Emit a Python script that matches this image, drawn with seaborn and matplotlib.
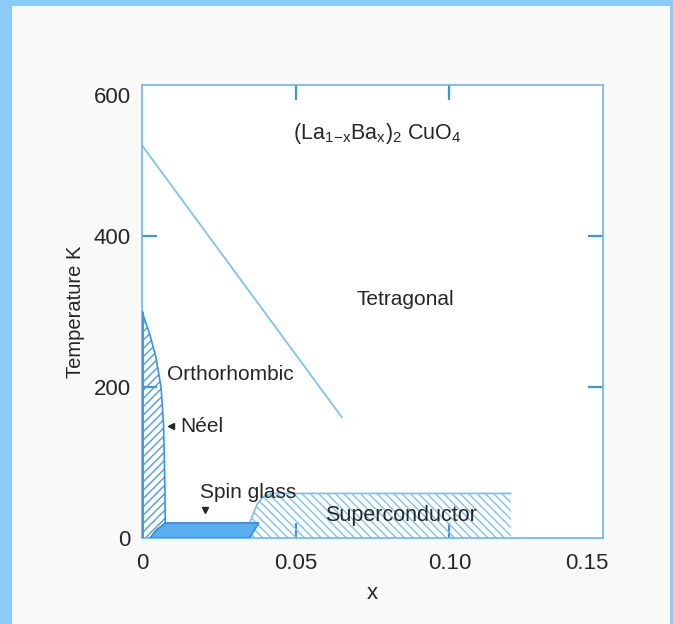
import numpy as np
import pandas as pd
import matplotlib
matplotlib.use("Agg")
import matplotlib.pyplot as plt
import matplotlib.transforms as mtransforms
from matplotlib.patches import Rectangle
import seaborn as sns

# Phase diagram of (La1-xBax)2CuO4
# Tetragonal / orthorhombic boundary
tet_x = [0.0, 0.065]
tet_T = [520, 160]

# Neel (antiferromagnetic) boundary
neel_T = [300, 270, 240, 200, 150, 100, 50, 0]
neel_x = [0.0, 0.0025, 0.0045, 0.0062, 0.0070, 0.0073, 0.0075, 0.0076]

# Spin glass region outline
sg_x = [0.0026, 0.0045, 0.0075, 0.0380, 0.0350]
sg_T = [0, 10, 20, 20, 0]

# Superconducting dome (left flank and top plateau)
sc_x = [0.0340, 0.0355, 0.0375, 0.0395, 0.0425, 0.1200]
sc_T = [0, 25, 45, 55, 59, 59]

x_ticks = [0, 0.05, 0.10, 0.15]
x_ticklabels = ["0", "0.05", "0.10", "0.15"]
y_ticks = [0, 200, 400, 600]
y_ticklabels = ["0", "200", "400", "600"]

sns.set_theme(style="white")
plt.rcParams["font.family"] = ["Liberation Sans", "DejaVu Sans"]
plt.rcParams["mathtext.fontset"] = "custom"
plt.rcParams["mathtext.rm"] = "Liberation Sans"
plt.rcParams["mathtext.it"] = "Liberation Sans"
plt.rcParams["mathtext.default"] = "regular"
plt.rcParams["hatch.linewidth"] = 1.0

frame_blue = "#6db5ec"
line_blue = "#7ec3ea"
hatch_blue = "#4a9de2"
dark_blue = "#3a93dc"
fill_blue = "#5aaef0"
text_col = "#262626"
label_size = 15

fig = plt.figure(figsize=(6.73, 6.24), dpi=100)
fig.patch.set_facecolor("#8ccbf6")
fig.patches.append(Rectangle((12 / 673, 0), (670 - 12) / 673, 1 - 6 / 624,
                             transform=fig.transFigure, facecolor="#f9f9f8",
                             edgecolor="none", zorder=-10))

ax = fig.add_axes([142 / 673, 1 - 538 / 624, (603 - 142) / 673, (538 - 85) / 624])
ax.set_zorder(1)
ax.set_facecolor("white")

# Tetragonal-orthorhombic transition line
sns.lineplot(x=tet_x, y=tet_T, ax=ax, color=line_blue, lw=1.3, sort=False)

# Neel region: hatched area under the boundary
ax.fill_betweenx(neel_T, 0, neel_x, facecolor="none", edgecolor=hatch_blue,
                 hatch="////", linewidth=0, zorder=2)
sns.lineplot(x=neel_x, y=neel_T, ax=ax, color=dark_blue, lw=1.2, sort=False)
ax.plot([0, 0], [0, neel_T[0]], color=dark_blue, lw=2.0, zorder=3)

# Superconducting region: hatched with a solid top edge
sc_df = pd.DataFrame({"x": sc_x, "T": sc_T})
ax.fill_between(sc_df["x"], 0, sc_df["T"], facecolor="none", edgecolor=line_blue,
                hatch="\\\\\\\\", linewidth=0, zorder=2)
ax.plot(sc_df["x"], sc_df["T"], color=line_blue, lw=1.3, zorder=3)

# Spin glass region: solid block
ax.fill(sg_x, sg_T, facecolor=fill_blue, edgecolor="#2f8ede", lw=1.2, zorder=4)

ax.set_xlim(0, 0.15)
ax.set_ylim(0, 600)

# Tick labels outside, short inward marks only at the interior ticks
ax.set_xticks(x_ticks)
ax.set_xticklabels(x_ticklabels)
ax.set_yticks(y_ticks)
ax.set_yticklabels(y_ticklabels)
ax.tick_params(axis="both", which="major", length=0, labelsize=16,
               labelcolor=text_col)
ax.tick_params(axis="y", which="major", pad=8)
ax.tick_params(axis="x", which="major", pad=11)
ax.xaxis.remove_overlapping_locs = False
ax.yaxis.remove_overlapping_locs = False
ax.set_xticks(x_ticks[1:3], minor=True)
ax.set_yticks(y_ticks[1:3], minor=True)
ax.tick_params(axis="both", which="minor", direction="in", length=11, width=1.6,
               color=dark_blue, top=True, right=True, bottom=True, left=True)

# Hand-set nudges of the outermost tick labels
lab_x = ax.get_xticklabels()[-1]
lab_x.set_transform(lab_x.get_transform() +
                    mtransforms.ScaledTranslation(-16 / 100, 0, fig.dpi_scale_trans))
lab_y = ax.get_yticklabels()[-1]
lab_y.set_transform(lab_y.get_transform() +
                    mtransforms.ScaledTranslation(0, -10 / 100, fig.dpi_scale_trans))

for s in ax.spines.values():
    s.set_color(frame_blue)
    s.set_linewidth(1.2)

ax.set_xlabel("x", fontsize=16, color=text_col, labelpad=6)
ax.set_ylabel("Temperature K", fontsize=14.5, color=text_col, labelpad=6)

# Region labels
ax.text(0.0765, 536, r"(La$_{1\!-\!x}$Ba$_x$)$_2$ CuO$_4$", fontsize=15.5,
        color=text_col, ha="center", va="center")
ax.text(0.0857, 316, "Tetragonal", fontsize=label_size, color=text_col,
        ha="center", va="center")
ax.text(0.0082, 216, "Orthorhombic", fontsize=label_size, color=text_col,
        ha="left", va="center")
ax.text(0.0124, 148, "Néel", fontsize=label_size, color=text_col,
        ha="left", va="center")
ax.plot([0.0094], [148], marker="<", color=text_col, ms=5, zorder=5)
ax.text(0.0189, 60, "Spin glass", fontsize=label_size, color=text_col,
        ha="left", va="center", zorder=6)
ax.plot([0.0205], [37], marker="v", color=text_col, ms=5, zorder=6)
ax.text(0.0843, 30, "Superconductor", fontsize=15.5, color=text_col,
        ha="center", va="center", zorder=6)

fig.savefig("out.png", dpi=100, facecolor=fig.get_facecolor())
